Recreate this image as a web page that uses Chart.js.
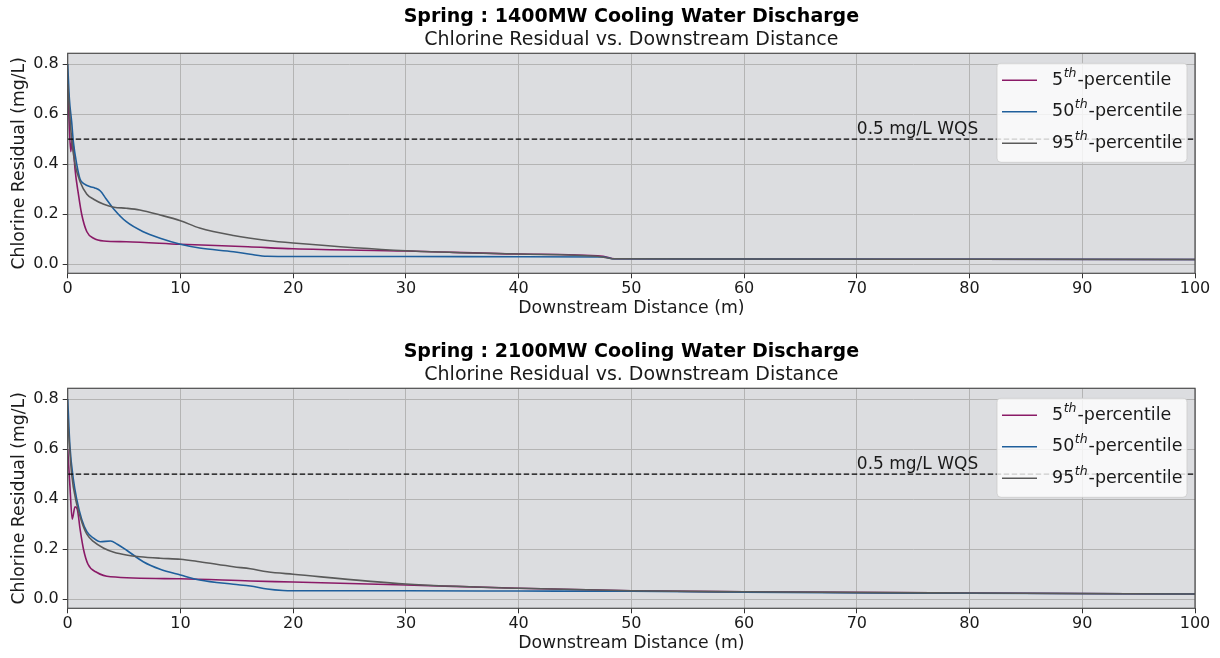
<!DOCTYPE html>
<html>
<head>
<meta charset="utf-8">
<title>Spring Chlorine Residual</title>
<script src="https://cdn.jsdelivr.net/npm/chart.js@4.4.1/dist/chart.umd.min.js"></script>
<style>
  html, body { margin: 0; padding: 0; background: #fff; overflow: hidden; }
  .panel { width: 1220px; height: 335px; }
</style>
</head>
<body>
<div class="panel"><canvas id="chart1400" width="1220" height="335"></canvas></div>
<div class="panel"><canvas id="chart2100" width="1220" height="335"></canvas></div>
<script>
// ---- axis setup ----
const xTicks = [0, 10, 20, 30, 40, 50, 60, 70, 80, 90, 100];
const yTicks = [0.0, 0.2, 0.4, 0.6, 0.8];
const percentiles = ['5', '50', '95'];
const wqsLimit = 0.5;
const wqsLabel = '0.5 mg/L WQS';
const wqsLabelAt = 70;

// ---- 1400MW discharge ----
const dist1400P5 = [0, 0.1, 0.27, 0.4, 0.5, 0.65, 0.95, 1.24, 1.7, 2.3, 3.2, 5.2, 10, 16, 20, 30, 40, 47.5, 48.5, 60, 80, 100];
const cl1400P5   = [0.70, 0.60, 0.45, 0.50, 0.47, 0.38, 0.28, 0.20, 0.13, 0.104, 0.093, 0.09, 0.08, 0.07, 0.062, 0.053, 0.041, 0.032, 0.022, 0.021, 0.02, 0.019];

const dist1400P50 = [0, 0.15, 0.35, 0.5, 0.8, 1.1, 1.5, 2.0, 2.4, 2.9, 3.4, 4.1, 5.2, 6.7, 8.2, 10, 11.7, 14.7, 16.2, 17.7, 20, 30, 40, 47.5, 48.5, 60, 80, 100];
const cl1400P50   = [0.80, 0.66, 0.57, 0.49, 0.40, 0.34, 0.32, 0.31, 0.305, 0.293, 0.262, 0.22, 0.17, 0.13, 0.104, 0.08, 0.065, 0.05, 0.04, 0.032, 0.031, 0.031, 0.03, 0.029, 0.022, 0.021, 0.02, 0.019];

const dist1400P95 = [0, 0.35, 0.65, 1.1, 1.7, 2.3, 3.2, 4.1, 5.2, 6.4, 8.2, 10, 11.7, 14.7, 17.7, 20, 30, 40, 47, 48.5, 60, 80, 100];
const cl1400P95   = [0.72, 0.50, 0.40, 0.33, 0.28, 0.26, 0.24, 0.228, 0.224, 0.217, 0.197, 0.174, 0.145, 0.115, 0.095, 0.085, 0.054, 0.041, 0.032, 0.022, 0.021, 0.02, 0.019];

// ---- 2100MW discharge ----
const dist2100P5 = [0, 0.2, 0.4, 0.65, 0.85, 1.1, 1.4, 1.8, 2.6, 3.8, 10, 16.2, 20, 30, 40, 50, 60, 80, 100];
const cl2100P5   = [0.60, 0.45, 0.32, 0.37, 0.36, 0.28, 0.20, 0.14, 0.107, 0.09, 0.082, 0.073, 0.069, 0.057, 0.044, 0.034, 0.03, 0.025, 0.021];

const dist2100P50 = [0, 0.2, 0.5, 0.8, 1.24, 1.7, 2.3, 2.9, 3.8, 4.4, 5.2, 6.7, 8.2, 10, 11.7, 14.7, 16.2, 17.7, 19.1, 20, 30, 40, 50, 60, 80, 100];
const cl2100P50   = [0.80, 0.61, 0.48, 0.40, 0.32, 0.27, 0.244, 0.23, 0.233, 0.22, 0.197, 0.15, 0.12, 0.097, 0.077, 0.06, 0.053, 0.041, 0.035, 0.034, 0.034, 0.033, 0.032, 0.028, 0.024, 0.021];

const dist2100P95 = [0, 0.35, 0.8, 1.24, 1.7, 2.3, 3.2, 4.1, 5.2, 6.4, 8.2, 10, 11.7, 14.7, 16.2, 17.7, 20, 30, 40, 50, 60, 80, 100];
const cl2100P95   = [0.72, 0.50, 0.38, 0.31, 0.26, 0.23, 0.204, 0.188, 0.177, 0.17, 0.164, 0.16, 0.15, 0.13, 0.122, 0.11, 0.10, 0.061, 0.044, 0.034, 0.03, 0.025, 0.021];

const lineColors = ['#8a1a67', '#1f5f9c', '#5a5a5a'];
const FONT = '"DejaVu Sans", sans-serif';

Chart.defaults.font.family = FONT;
Chart.defaults.color = '#1a1a1a';

function toPoints(xs, ys) {
  return xs.map((x, i) => ({ x, y: ys[i] }));
}

// grey plot background + dark frame around the axes
const plotFrame = {
  id: 'plotFrame',
  beforeDraw(chart) {
    const { ctx, chartArea: a } = chart;
    ctx.save();
    ctx.fillStyle = '#dcdde0';
    ctx.fillRect(a.left, a.top, a.right - a.left, a.bottom - a.top);
    ctx.restore();
  },
  afterDatasetsDraw(chart) {
    const { ctx, chartArea: a } = chart;
    ctx.save();
    ctx.strokeStyle = '#4d4d4d';
    ctx.lineWidth = 1.2;
    ctx.strokeRect(a.left, a.top, a.right - a.left, a.bottom - a.top);
    ctx.restore();
  }
};

// WQS text sitting on the dashed limit line
const wqsText = {
  id: 'wqsText',
  afterDatasetsDraw(chart) {
    const { ctx, scales } = chart;
    ctx.save();
    ctx.font = '17px ' + FONT;
    ctx.fillStyle = '#1a1a1a';
    ctx.textAlign = 'left';
    ctx.textBaseline = 'alphabetic';
    ctx.fillText(wqsLabel, scales.x.getPixelForValue(wqsLabelAt), scales.y.getPixelForValue(wqsLimit) - 5.5);
    ctx.restore();
  }
};

// legend box with superscript "th"
const percentileLegend = {
  id: 'percentileLegend',
  afterDraw(chart) {
    const { ctx, chartArea: a } = chart;
    const w = 190, h = 99;
    const x0 = a.right - 8 - w, y0 = a.top + 10;
    ctx.save();
    ctx.beginPath();
    ctx.roundRect(x0, y0, w, h, 4);
    ctx.fillStyle = 'rgba(255,255,255,0.8)';
    ctx.fill();
    ctx.strokeStyle = 'rgba(204,204,204,0.8)';
    ctx.lineWidth = 1;
    ctx.stroke();

    percentiles.forEach((p, i) => {
      const y = y0 + 17 + i * 31.5;
      ctx.strokeStyle = lineColors[i];
      ctx.lineWidth = 1.5;
      ctx.beginPath();
      ctx.moveTo(x0 + 5, y);
      ctx.lineTo(x0 + 40, y);
      ctx.stroke();

      let x = x0 + 55;
      ctx.fillStyle = '#1a1a1a';
      ctx.textBaseline = 'middle';
      ctx.font = '17.5px ' + FONT;
      ctx.fillText(p, x, y);
      x += ctx.measureText(p).width;
      ctx.font = 'italic 12.5px ' + FONT;
      ctx.fillText('th', x + 0.5, y - 7);
      x += ctx.measureText('th').width + 1.5;
      ctx.font = '17.5px ' + FONT;
      ctx.fillText('-percentile', x, y);
    });
    ctx.restore();
  }
};

function makeChart(id, title, p5, p50, p95) {
  const series = [p5, p50, p95];
  const datasets = series.map((pts, i) => ({
    label: percentiles[i] + 'th-percentile',
    data: pts,
    borderColor: lineColors[i],
    borderWidth: 1.6,
    pointRadius: 0,
    cubicInterpolationMode: 'monotone',
    order: 3 - i
  }));
  datasets.push({
    label: wqsLabel,
    data: [{ x: 0, y: wqsLimit }, { x: 100, y: wqsLimit }],
    borderColor: '#000',
    borderWidth: 1.3,
    borderDash: [5.5, 2.5],
    pointRadius: 0,
    order: 0
  });

  return new Chart(document.getElementById(id), {
    type: 'line',
    data: { datasets },
    options: {
      responsive: false,
      animation: false,
      layout: { padding: { left: 0, right: 25, top: 0, bottom: 0 } },
      plugins: {
        legend: { display: false },
        tooltip: { enabled: false },
        title: {
          display: true,
          text: title,
          fullSize: false,
          font: { size: 19, weight: 'bold' },
          color: '#000',
          padding: { top: 5.6, bottom: 0 }
        },
        subtitle: {
          display: true,
          text: 'Chlorine Residual vs. Downstream Distance',
          fullSize: false,
          font: { size: 19 },
          color: '#1a1a1a',
          padding: { top: 0, bottom: 2.1 }
        }
      },
      scales: {
        x: {
          type: 'linear',
          min: 0,
          max: 100,
          afterBuildTicks: s => { s.ticks = xTicks.map(v => ({ value: v })); },
          afterFit: s => { s.height = 61.7; },
          grid: { color: '#b4b4b4', lineWidth: 1, tickColor: '#333', tickLength: 5 },
          border: { display: false },
          ticks: { font: { size: 16 }, padding: 0.5, maxRotation: 0 },
          title: {
            display: true,
            text: 'Downstream Distance (m)',
            font: { size: 17.3 },
            padding: { top: 0, bottom: 16.1 }
          }
        },
        y: {
          min: -0.036,
          max: 0.843,
          afterBuildTicks: s => { s.ticks = yTicks.map(v => ({ value: v })); },
          afterFit: s => { s.width = 67.7; },
          grid: { color: '#b4b4b4', lineWidth: 1, tickColor: '#333', tickLength: 5 },
          border: { display: false },
          ticks: { font: { size: 16 }, padding: 4, callback: v => v.toFixed(1) },
          title: {
            display: true,
            text: 'Chlorine Residual (mg/L)',
            font: { size: 17.3 },
            padding: { top: 9.6, bottom: 0 }
          }
        }
      }
    },
    plugins: [plotFrame, wqsText, percentileLegend]
  });
}

makeChart('chart1400', 'Spring : 1400MW Cooling Water Discharge',
  toPoints(dist1400P5, cl1400P5), toPoints(dist1400P50, cl1400P50), toPoints(dist1400P95, cl1400P95));
makeChart('chart2100', 'Spring : 2100MW Cooling Water Discharge',
  toPoints(dist2100P5, cl2100P5), toPoints(dist2100P50, cl2100P50), toPoints(dist2100P95, cl2100P95));
</script>
</body>
</html>
